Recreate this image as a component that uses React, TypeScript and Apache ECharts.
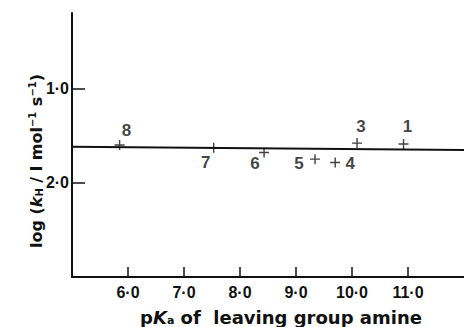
import React, { useEffect, useRef } from "react";
import * as echarts from "echarts";

const pKa = [10.92, 9.7, 9.34, 8.43, 7.53, 10.09, 5.85];
const logKH = [1.59, 1.785, 1.75, 1.68, 1.63, 1.58, 1.6];
const pointLabels = ["1", "4", "5", "6", "7", "3", "8"];
const labelOffsets: [number, number][] = [
  [4, -18],
  [15, 1],
  [-16, 4],
  [-9, 11],
  [-8, 15],
  [4, -17],
  [7, -15],
];
const fitX = [5, 12];
const fitY = [1.619, 1.654];
const xTicks = [6, 7, 8, 9, 10, 11];
const yTicks = [1, 2];

const FONT = "Liberation Sans";
const TFONT = "DejaVu Sans";
const fmt = (v: number) => v.toFixed(1).replace(".", "·");

export default function App() {
  const ref = useRef<HTMLDivElement>(null);
  useEffect(() => {
    if (!ref.current) return;
    const chart = echarts.init(ref.current, undefined, { renderer: "svg" });
    const plus =
      "path://M-0.7,-5H0.7V-0.7H5V0.7H0.7V5H-0.7V0.7H-5V-0.7H-0.7Z";
    chart.setOption({
      animation: false,
      backgroundColor: "#fff",
      grid: { left: 72, right: 0, top: 13, bottom: 50 },
      xAxis: {
        type: "value",
        min: 5,
        max: 12,
        axisLine: { onZero: false, lineStyle: { color: "#111", width: 2 } },
        splitLine: { show: false },
        axisTick: {
          inside: true,
          length: 10,
          customValues: xTicks,
          lineStyle: { color: "#111", width: 1.5 },
        },
        axisLabel: {
          customValues: xTicks,
          formatter: (v: number) => fmt(v),
          color: "#111",
          fontFamily: FONT,
          fontWeight: "bold",
          fontSize: 16,
          margin: 7,
        },
      },
      yAxis: {
        type: "value",
        inverse: true,
        min: 0.2,
        max: 3.0,
        axisLine: { show: true, onZero: false, lineStyle: { color: "#111", width: 2 } },
        splitLine: { show: false },
        axisTick: {
          show: true,
          inside: true,
          length: 13,
          customValues: yTicks,
          lineStyle: { color: "#111", width: 1.5 },
        },
        axisLabel: {
          customValues: yTicks,
          formatter: (v: number) => fmt(v),
          color: "#111",
          fontFamily: FONT,
          fontWeight: "bold",
          fontSize: 16,
          margin: 3,
        },
      },
      graphic: [
        {
          type: "text",
          x: 36,
          y: 161,
          rotation: Math.PI / 2,
          style: {
            text: "log ({i|k}{sub|H} / l mol{sup|−1} s{sup|−1})",
            fontFamily: TFONT,
            fontWeight: "bold",
            fontSize: 16,
            fill: "#111",
            align: "center",
            verticalAlign: "middle",
            rich: {
              i: { fontStyle: "italic", fontWeight: "bold", fontSize: 16, fontFamily: TFONT, fill: "#111" },
              sub: { fontSize: 10, fontWeight: "bold", fontFamily: TFONT, verticalAlign: "bottom", padding: [7, 0, 0, 0], fill: "#111" },
              sup: { fontSize: 10, fontWeight: "bold", fontFamily: TFONT, verticalAlign: "top", padding: [0, 0, 7, 0], fill: "#111" },
            },
          },
        },
        {
          type: "text",
          x: 281,
          y: 317,
          style: {
            text: "p{i|K}{sub|a} of  leaving group amine",
            fontFamily: TFONT,
            fontWeight: "bold",
            fontSize: 18,
            fill: "#111",
            align: "center",
            verticalAlign: "middle",
            rich: {
              i: { fontStyle: "italic", fontWeight: "bold", fontSize: 18, fontFamily: TFONT, fill: "#111" },
              sub: { fontSize: 11, fontWeight: "bold", fontFamily: TFONT, verticalAlign: "bottom", padding: [7, 0, 0, 0], fill: "#111" },
            },
          },
        },
      ],
      series: [
        {
          type: "line",
          data: fitX.map((x, i) => [x, fitY[i]]),
          showSymbol: false,
          symbol: "none",
          lineStyle: { color: "#111", width: 2 },
          z: 2,
        },
        {
          type: "scatter",
          symbol: plus,
          symbolSize: 10,
          itemStyle: { color: "#111" },
          z: 3,
          data: pKa.map((x, i) => ({
            value: [x, logKH[i]],
            label: {
              show: true,
              formatter: pointLabels[i],
              position: "inside",
              offset: labelOffsets[i],
              color: "#111",
              fontFamily: FONT,
              fontWeight: "bold",
              fontSize: 17,
            },
          })),
        },
      ],
    });
    return () => chart.dispose();
  }, []);
  return (
    <div
      ref={ref}
      style={{ position: "fixed", left: 0, top: 0, width: 464, height: 327 }}
    />
  );
}
